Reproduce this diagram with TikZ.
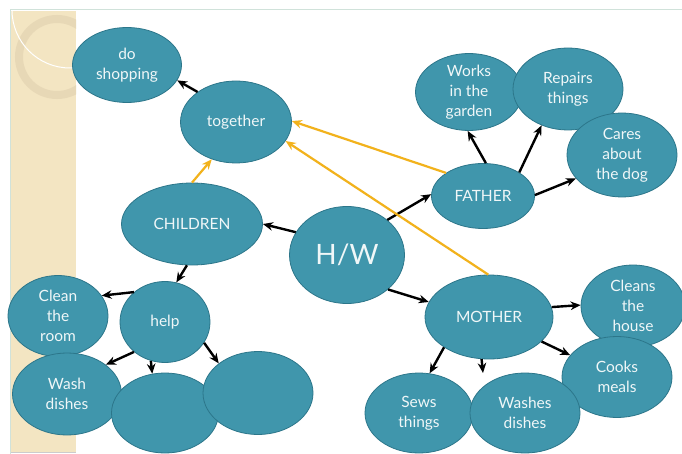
\documentclass[tikz,border=0pt]{standalone}
\usepackage{fontspec}
\setmainfont{Lato}
\usepackage{tikz}
\usetikzlibrary{arrows.meta,shapes.geometric,calc}
\pgfdeclarelayer{bg}
\pgfsetlayers{bg,main}
\definecolor{blobfill}{RGB}{64,150,172}
\definecolor{blobedge}{RGB}{44,118,138}
\definecolor{stripc}{RGB}{243,229,194}
\definecolor{ringc}{RGB}{231,216,182}
\definecolor{goldc}{RGB}{242,178,28}
\definecolor{framec}{RGB}{208,226,218}

\begin{document}
\begin{tikzpicture}[x=1pt,y=-1pt,
    blob/.style={ellipse, fill=blobfill, draw=blobedge, line width=0.8pt,
      text=white!92!blobfill, align=center, inner sep=0pt,
      font=\fontsize{15.5}{20}\selectfont},
    sz/.style 2 args={minimum width=#1pt, minimum height=#2pt},
    arr/.style={line width=2.4pt, -{Stealth[length=10pt,width=8.5pt]}},
    goldarr/.style={goldc, line width=2.2pt, -{Stealth[length=10pt,width=8.5pt]}}]

    \useasboundingbox (0,0) rectangle (682,454);

    \begin{pgfonlayer}{bg}    % slide frame and side strip
        \fill[white] (0,0) rectangle (682,454);
        \fill[stripc] (11,11) rectangle (76,452);
        \begin{scope}
            \clip (11,11) rectangle (76,452);
            \draw[ringc, line width=8pt] (57,57) circle[radius=38];
            \draw[white, line width=1pt] (70,10) circle[radius=58];
        \end{scope}
        \draw[framec, line width=1pt] (10,454) -- (10,10) -- (682,10);
        \draw[gray!40, line width=0.6pt] (11,452) -- (76,452);
    \end{pgfonlayer}

    \node [blob, sz={109}{75}] (shop) at (127,65) {do\\shopping};
    \node [blob, sz={111}{82}] (together) at (236,122) {together};
    \node [blob, sz={141}{82}] (children) at (192,224) {CHILDREN};
    \node [blob, sz={115}{97}, font=\fontsize{28}{32}\selectfont] (hw) at (347,255) {H/W};
    \node [blob, sz={100}{81}] (room) at (58,316) {Clean\\the\\room};
    \node [blob, sz={90}{81}] (help) at (165,322) {help};
    \node [blob, sz={109}{82}] (wash) at (67,394) {Wash\\dishes};
    \node [blob, sz={107}{80}] (empty1) at (165,413) {};
    \node [blob, sz={110}{83}] (empty2) at (258,393) {};

    \node [blob, sz={107}{77}] (garden) at (469,92) {Works\\in the\\garden};
    \node [blob, sz={110}{82}] (repairs) at (568,89) {Repairs\\things};
    \node [blob, sz={110}{84}] (dog) at (622,155) {Cares\\about\\the dog};
    \node [blob, sz={103}{65}] (father) at (483,196) {FATHER};

    \node [blob, sz={128}{84}] (mother) at (489,317) {MOTHER};
    \node [blob, sz={104}{82}] (house) at (633,306) {Cleans\\the\\house};
    \node [blob, sz={110}{81}] (meals) at (617,377) {Cooks\\meals};
    \node [blob, sz={108}{80}] (sews) at (419,413) {Sews\\things};
    \node [blob, sz={110}{80}] (washes) at (525,413) {Washes\\dishes};
    \coordinate (washtip) at (483,373);

    \draw[arr] (together.142) -- (shop.-17);
    \draw[arr] (hw.156) -- (children.0);
    \draw[arr] (children.-97) -- (help.74);
    \draw[arr] (hw.41) -- (father.178);
    \draw[arr] (hw.-40) -- (mother.166);
    \draw[arr] (father.85) -- (garden.-92);
    \draw[arr] (father.33) -- (repairs.-126);
    \draw[arr] (father.1) -- (dog.-153);
    \draw[arr] (mother.9) -- (house.179);
    \draw[arr] (mother.-25) -- (meals.155);
    \draw[arr] (mother.-146) -- (sews.75);
    \draw[arr] (mother.-100) -- (washtip);
    \draw[arr] (help.136) -- (room.25);
    \draw[arr] (help.-136) -- (wash.37);
    \draw[arr] (help.-110) -- (empty1.108);
    \draw[arr] (help.-28) -- (empty2.143);

    \draw[goldarr] (children.90) -- (together.-123);
    \draw[goldarr] (father.148) -- (together.1);
    \draw[goldarr] (mother.91) -- (together.-21);
\end{tikzpicture}
\end{document}
